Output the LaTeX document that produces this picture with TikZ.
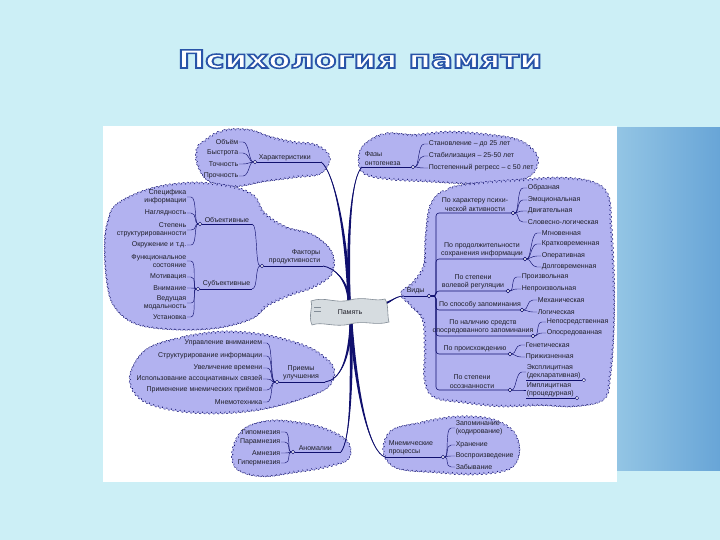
\documentclass[tikz,border=0pt]{standalone}
\usepackage{fontspec}
\setmainfont{Liberation Sans}
\newfontfamily\titlefont{DejaVu Sans}
\usetikzlibrary{calc,decorations.pathmorphing}
\definecolor{bgcyan}{RGB}{204,239,246}
\definecolor{bgblue}{RGB}{104,165,215}
\definecolor{lav}{RGB}{178,178,240}
\definecolor{navy}{RGB}{16,16,110}
\definecolor{txt}{RGB}{30,30,40}
\definecolor{bannerfill}{RGB}{214,220,224}
\definecolor{bannerline}{RGB}{130,140,150}
\tikzset{
 cloudy/.style={fill=lav, draw=navy, line width=0.45pt, dash pattern=on 2pt off 1.2pt,
   decorate, decoration={bumps, segment length=9pt, amplitude=2pt}},
 lbl/.style={font=\fontsize{7}{8.2}\selectfont, text=txt, inner sep=0.6pt},
 kidL/.style={lbl, anchor=east, align=right},
 kidR/.style={lbl, anchor=west, align=left},
 uline/.style={draw=navy, line width=0.6pt},
 conn/.style={draw=navy, line width=0.45pt},
 jn/.style={circle, draw=navy, fill=white, line width=0.45pt, inner sep=0pt, minimum size=3.4pt},
}
\newcommand{\mytrunk}[5]{%
  \fill[navy] (#1) .. controls #2 and ($#3+#5$) .. ($(#4)+#5$) -- ($(#4)-#5$) .. controls ($#3-#5$) and #2 .. (#1) -- cycle;
  \draw[navy, line width=0.8pt] (#1) .. controls #2 and #3 .. (#4);}
\newcommand{\ttl}{\scalebox{1.3}[1]{\titlefont\bfseries\fontsize{25}{30}\selectfont Психология памяти}}
\begin{document}
\begin{tikzpicture}[x=1pt,y=-1pt]
\useasboundingbox (0,0) rectangle (720,540);
% background
\fill[bgcyan] (0,0) rectangle (720,540);
\shade[left color=bgcyan, right color=bgblue] (480,128) rectangle (720,470);
\fill[white] (103,126) rectangle (617,482);
% title: white letters with a blue outline
\node[text=white, inner sep=0, anchor=base] (title) at (360,68)
  {\special{pdf:literal direct 2 Tr 1.5 w 0.16 0.33 0.66 RG}\ttl\special{pdf:literal direct 0 Tr}};
% clouds
\path[cloudy] plot[smooth cycle, tension=0.6] coordinates {(205,142) (222,132) (248,131) (270,138) (292,143) (315,146) (328,157) (320,172) (295,176) (265,180) (235,185) (210,180) (199,165) (198,150)};
\path[cloudy] plot[smooth cycle, tension=0.6] coordinates {(118,205) (150,190) (190,184) (228,187) (252,196) (264,214) (285,228) (312,236) (330,252) (331,272) (315,285) (290,294) (268,304) (250,318) (215,327) (170,328) (135,322) (115,305) (108,280) (106,245) (109,222)};
\path[cloudy] plot[smooth cycle, tension=0.6] coordinates {(365,146) (385,135) (415,136) (450,133) (490,136) (520,142) (536,157) (530,174) (505,181) (465,182) (425,180) (390,178) (366,173) (360,160)};
\path[cloudy] plot[smooth cycle, tension=0.6] coordinates {(432,205) (448,190) (480,184) (520,181) (560,179) (592,183) (607,196) (610,225) (612,260) (613,300) (612,340) (609,375) (603,398) (575,405) (540,404) (500,405) (462,401) (435,396) (426,380) (426,350) (424,320) (412,305) (403,294) (415,282) (425,265) (427,235)};
\path[cloudy] plot[smooth cycle, tension=0.6] coordinates {(148,350) (180,339) (220,333) (258,335) (290,342) (315,352) (332,368) (327,386) (300,398) (262,408) (220,412) (180,410) (148,402) (133,388) (133,370)};
\path[cloudy] plot[smooth cycle, tension=0.6] coordinates {(245,430) (270,422) (300,424) (325,430) (346,442) (347,458) (325,466) (295,471) (262,475) (238,468) (234,450)};
\path[cloudy] plot[smooth cycle, tension=0.6] coordinates {(392,432) (420,424) (455,418) (490,420) (512,432) (518,452) (508,468) (475,473) (435,471) (398,467) (385,452)};
% trunk anchors
\coordinate (tTop) at (349,300);
\coordinate (tBot) at (351,324);
\coordinate (tRt) at (381,304);
% branch nodes
\node[lbl, anchor=south west] (char) at (258,162) {Характеристики};
\coordinate (charE) at (321,162);
\node[lbl, anchor=south west, align=left] (faz) at (364,166) {Фазы\\онтогенеза};
\coordinate (fazS) at (362,167);
\node[lbl, anchor=south east, align=right] (fact) at (321,265) {Факторы\\продуктивности};
\coordinate (factE) at (323,266);
\node[lbl, anchor=south west] (vid) at (406,295) {Виды};
\coordinate (vidS) at (404,296);
\node[lbl, anchor=south, align=center] (pri) at (301,381) {Приемы\\улучшения};
\coordinate (priE) at (325,382);
\node[lbl, anchor=south west] (ano) at (298,451) {Аномалии};
\coordinate (anoE) at (341,452);
\node[lbl, anchor=south west, align=left] (mne) at (388,456) {Мнемические\\процессы};
\coordinate (mneS) at (385,457);
% trunks
\mytrunk{charE}{(333,170)}{(346,225)}{tTop}{(1.6,0)}
\mytrunk{fazS}{(352,176)}{(347,230)}{tTop}{(1.6,0)}
\mytrunk{factE}{(335,268)}{(347,280)}{tTop}{(1.4,0)}
\mytrunk{vidS}{(394,296)}{(390,304)}{tRt}{(0,1.3)}
\mytrunk{priE}{(340,380)}{(349,360)}{tBot}{(1.4,0)}
\mytrunk{anoE}{(350,440)}{(352,390)}{tBot}{(1.6,0)}
\mytrunk{mneS}{(370,452)}{(357,400)}{tBot}{(1.6,0)}
% banner
\path[fill=bannerfill, draw=bannerline, line width=0.6pt] (311,301) .. controls (325,296) and (335,304) .. (350,300) .. controls (365,296) and (375,302) .. (385,299) .. controls (389,305) and (387,316) .. (389,322) .. controls (375,326) and (365,320) .. (350,324) .. controls (335,328) and (322,321) .. (312,325) .. controls (308,316) and (313,308) .. cycle;
\draw[bannerline, line width=0.6pt] (314,307) -- (321,307) (314,311) -- (321,311);
\node[lbl] (mem) at (350,312) {Память};
% junctions
\node[jn] (charJ) at (255,162) {};
\node[jn] (fazJ) at (413,167) {};
\node[jn] (factJ) at (262,266) {};
\node[jn] (objJ) at (200,224) {};
\node[jn] (subJ) at (198,289) {};
\node[jn] (vidJ) at (429,296) {};
\node[jn] (priJ) at (277,382) {};
\node[jn] (anoJ) at (293,452) {};
\node[jn] (mneJ) at (443,457) {};
\draw[uline] (charJ) -- (charE);
\draw[uline] (fazS) -- (fazJ);
\draw[uline] (factJ) -- (factE);
\draw[uline] (vidS) -- (vidJ);
\draw[uline] (priJ) -- (priE);
\draw[uline] (anoJ) -- (anoE);
\draw[uline] (mneS) -- (mneJ);
% factors sub-branches
\node[lbl, anchor=south west] (obj) at (204,223) {Объективные};
\coordinate (objE) at (252,224);
\node[lbl, anchor=south west] (sub) at (202,288) {Субъективные};
\coordinate (subE) at (252,289);
\draw[uline] (objJ) -- (objE);
\draw[uline] (subJ) -- (subE);
\draw[conn] (factJ) .. controls +(-7,0) and +(6,0) .. (objE);
\draw[conn] (factJ) .. controls +(-7,0) and +(6,0) .. (subE);
% left children
\foreach \n/\y/\t in {a/142/Объём, b/153/Быстрота, c/164/Точность, d/176/Прочность}{
  \node[kidL] (ch-\n) at (239,\y) {\t};
  \draw[conn] (charJ) .. controls +(-6,0) and +(6,0) .. ([xshift=4pt]ch-\n.east) -- (ch-\n.east);}
\foreach \n/\y/\t in {a/197/{Специфика\\информации}, b/213/Наглядность, c/230/{Степень\\структурированности}, d/245/{Окружение и т.д.}}{
  \node[kidL] (ob-\n) at (187,\y) {\t};
  \draw[conn] (objJ) .. controls +(-6,0) and +(6,0) .. ([xshift=4pt]ob-\n.east) -- (ob-\n.east);}
\foreach \n/\y/\t in {a/261/{Функциональное\\состояние}, b/277/Мотивация, c/288/Внимание, d/303/{Ведущая\\модальность}, e/317/Установка}{
  \node[kidL] (sb-\n) at (187,\y) {\t};
  \draw[conn] (subJ) .. controls +(-6,0) and +(6,0) .. ([xshift=4pt]sb-\n.east) -- (sb-\n.east);}
\foreach \n/\y/\t in {a/343/Управление вниманием, b/356/Структурирование информации, c/368/Увеличение времени, d/379/Использование ассоциативных связей, e/390/Применение мнемических приёмов, f/402/Мнемотехника}{
  \node[kidL] (pr-\n) at (263,\y) {\t};
  \draw[conn] (priJ) .. controls +(-7,0) and +(6,0) .. ([xshift=4pt]pr-\n.east) -- (pr-\n.east);}
\foreach \n/\y/\t in {a/432/Гипомнезия, b/442/Парамнезия, c/453/Амнезия, d/463/Гипермнезия}{
  \node[kidL] (an-\n) at (281,\y) {\t};
  \draw[conn] (anoJ) .. controls +(-6,0) and +(6,0) .. ([xshift=4pt]an-\n.east) -- (an-\n.east);}
% right children
\foreach \n/\y/\t in {a/144/{Становление – до 25 лет}, b/156/{Стабилизация – 25-50 лет}, c/168/{Постепенный регресс – с 50 лет}}{
  \node[kidR] (fz-\n) at (428,\y) {\t};
  \draw[conn] (fazJ) .. controls +(6,0) and +(-6,0) .. ([xshift=-4pt]fz-\n.west) -- (fz-\n.west);}
\foreach \n/\y/\t in {a/428/{Запоминание\\(кодирование)}, b/445/Хранение, c/456/Воспроизведение, d/467/Забывание}{
  \node[kidR] (mn-\n) at (455,\y) {\t};
  \draw[conn] (mneJ) .. controls +(6,0) and +(-6,0) .. ([xshift=-4pt]mn-\n.west) -- (mn-\n.west);}
% kinds categories
\foreach \c/\x/\y/\j/\t in {1/475/213/513/{По характеру психи-\\ческой активности}, 2/482/259/525/{По продолжительности\\сохранения информации}, 3/473/291/508/{По степени\\волевой регуляции}, 4/480/310/522/{По способу запоминания}, 5/483/336/533/{По наличию средств\\опосредованного запоминания}, 6/475/354/510/{По происхождению}, 7/472/390/510/{По степени\\осознанности}}{
  \node[lbl, anchor=south, align=center] (cat\c) at (\x,\y-1) {\t};
  \coordinate (cS\c) at (436,\y);
  \node[jn] (cJ\c) at (\j,\y) {};
  \draw[uline, rounded corners=3pt] (vidJ) -| (cS\c) -- (cJ\c);}
\node[jn] (vidJb) at (vidJ) {};
\foreach \c/\n/\x/\y/\t in {1/a/527/188/Образная, 1/b/527/200/Эмоциональная, 1/c/527/211/Двигательная, 1/d/527/222/Словесно-логическая,
  2/a/541/233/Мгновенная, 2/b/541/244/Кратковременная, 2/c/541/256/Оперативная, 2/d/541/267/Долговременная,
  3/a/521/277/Произвольная, 3/b/521/289/Непроизвольная,
  4/a/537/300/Механическая, 4/b/537/312/Логическая,
  5/a/546/322/Непосредственная, 5/b/546/333/Опосредованная,
  6/a/525/345/Генетическая, 6/b/525/357/Прижизненная,
  7/a/526/372/{Эксплицитная\\(декларативная)}, 7/b/526/390/{Имплицитная\\(процедурная)}}{
  \node[kidR] (v\c\n) at (\x,\y) {\t};
  \draw[conn] (cJ\c) .. controls +(6,0) and +(-6,0) .. ([xshift=-4pt]v\c\n.west) -- (v\c\n.west);}
\foreach \c in {1,...,7} \node[jn] (cJc\c) at (cJ\c) {};
\node[jn] (e1c) at ([xshift=2.5pt]v7a.south east) {};
\node[jn] (e2c) at ([xshift=2.5pt]v7b.south east) {};
\draw[uline] (v7a.south west) -- (e1c.west);
\draw[uline] (v7b.south west) -- (e2c.west);
\end{tikzpicture}
\end{document}
